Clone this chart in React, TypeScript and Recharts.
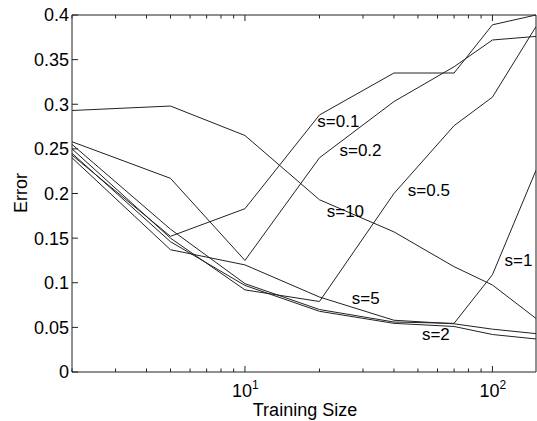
import { LineChart, Line, XAxis, YAxis, ReferenceDot } from "recharts";

// training sizes (log axis)
const sizes = [2, 5, 10, 20, 40, 70, 100, 150];

// error curves, one per s value
const s01 = [0.243, 0.152, 0.183, 0.288, 0.335, 0.335, 0.389, 0.4];
const s02 = [0.258, 0.217, 0.125, 0.24, 0.303, 0.342, 0.372, 0.376];
const s05 = [0.25, 0.15, 0.092, 0.079, 0.2, 0.276, 0.308, 0.387];
const s1 = [0.255, 0.16, 0.099, 0.07, 0.056, 0.0545, 0.109, 0.226];
const s2 = [0.245, 0.146, 0.097, 0.068, 0.0545, 0.051, 0.042, 0.037];
const s5 = [0.24, 0.137, 0.12, 0.084, 0.058, 0.054, 0.048, 0.043];
const s10 = [0.293, 0.298, 0.265, 0.193, 0.157, 0.118, 0.0975, 0.06];

const seriesKeys = ["s01", "s02", "s05", "s1", "s2", "s5", "s10"];
const seriesNames = ["s=0.1", "s=0.2", "s=0.5", "s=1", "s=2", "s=5", "s=10"];
const seriesValues = [s01, s02, s05, s1, s2, s5, s10];

// where each curve label sits (data coords)
const labelX = [19.6, 24.1, 45.5, 112, 51.9, 27, 21.4];
const labelY = [0.281, 0.249, 0.204, 0.1255, 0.0426, 0.083, 0.18];

const yTicks = [0, 0.05, 0.1, 0.15, 0.2, 0.25, 0.3, 0.35, 0.4];
const xTicks = [2, 3, 4, 5, 6, 7, 8, 9, 10, 20, 30, 40, 50, 60, 70, 80, 90, 100];
const xMajor = [10, 100];

const data = sizes.map((n, i) => {
  const row: Record<string, number> = { n };
  seriesKeys.forEach((k, j) => {
    row[k] = seriesValues[j][i];
  });
  return row;
});

const FONT = "'Liberation Sans', Arial, Helvetica, sans-serif";
const INK = "#222";

function BottomTick({ x, y, payload }: any) {
  const major = xMajor.includes(payload.value);
  const len = major ? 6 : 3.5;
  return (
    <g>
      <line x1={x} y1={y} x2={x} y2={y - len} stroke={INK} />
      {major && (
        <text x={x - 13} y={y + 25} fontSize={18} fill="#000" fontFamily={FONT}>
          10
          <tspan dy={-8} fontSize={12}>
            {Math.round(Math.log10(payload.value))}
          </tspan>
        </text>
      )}
    </g>
  );
}

function TopTick({ x, y, payload }: any) {
  const major = xMajor.includes(payload.value);
  const len = major ? 6 : 3.5;
  return <line x1={x} y1={y} x2={x} y2={y + len} stroke={INK} />;
}

function LeftTick({ x, y, payload }: any) {
  const v = payload.value;
  const txt = v === 0 ? "0" : String(Math.round(v * 100) / 100);
  return (
    <g>
      <line x1={x} y1={y} x2={x + 6} y2={y} stroke={INK} />
      <text
        x={x - 3}
        y={y}
        dy="0.355em"
        textAnchor="end"
        fontSize={18}
        fill="#000"
        fontFamily={FONT}
      >
        {txt}
      </text>
    </g>
  );
}

function RightTick({ x, y }: any) {
  return <line x1={x} y1={y} x2={x - 6} y2={y} stroke={INK} />;
}

export default function App() {
  return (
    <div style={{ position: "absolute", left: 0, top: 0, background: "#fff" }}>
      <LineChart
        width={537}
        height={421}
        data={data}
        margin={{ top: 14, right: 0, bottom: 48, left: 71 }}
      >
        <XAxis
          xAxisId="b"
          dataKey="n"
          type="number"
          scale="log"
          domain={[2, 150]}
          ticks={xTicks}
          allowDataOverflow
          height={1}
          tickSize={0}
          tickMargin={0}
          tick={<BottomTick />}
          stroke={INK}
          interval={0}
        />
        <XAxis
          xAxisId="t"
          orientation="top"
          dataKey="n"
          type="number"
          scale="log"
          domain={[2, 150]}
          ticks={xTicks}
          allowDataOverflow
          height={1}
          tickSize={0}
          tickMargin={0}
          tick={<TopTick />}
          stroke={INK}
          interval={0}
        />
        <YAxis
          yAxisId="l"
          type="number"
          domain={[0, 0.4]}
          ticks={yTicks}
          width={1}
          tickSize={0}
          tickMargin={0}
          tick={<LeftTick />}
          stroke={INK}
          interval={0}
        />
        <YAxis
          yAxisId="r"
          orientation="right"
          type="number"
          domain={[0, 0.4]}
          ticks={yTicks}
          width={1}
          tickSize={0}
          tickMargin={0}
          tick={<RightTick />}
          stroke={INK}
          interval={0}
        />
        {seriesKeys.map((k) => (
          <Line
            key={k}
            xAxisId="b"
            yAxisId="l"
            dataKey={k}
            type="linear"
            stroke={INK}
            strokeWidth={1}
            dot={false}
            isAnimationActive={false}
          />
        ))}
        {seriesNames.map((name, i) => (
          <ReferenceDot
            key={name}
            xAxisId="b"
            yAxisId="l"
            x={labelX[i]}
            y={labelY[i]}
            r={0}
            fill="none"
            stroke="none"
            label={{
              value: name,
              position: "right",
              offset: 0,
              fontSize: 17,
              fill: "#000",
              fontFamily: FONT,
            }}
          />
        ))}
        <text
          x={305}
          y={410}
          dy="0.355em"
          textAnchor="middle"
          fontSize={18}
          fill="#000"
          fontFamily={FONT}
        >
          Training Size
        </text>
        <text
          x={21}
          y={193}
          dy="0.355em"
          textAnchor="middle"
          fontSize={18}
          fill="#000"
          fontFamily={FONT}
          transform="rotate(-90 21 193)"
        >
          Error
        </text>
      </LineChart>
    </div>
  );
}
